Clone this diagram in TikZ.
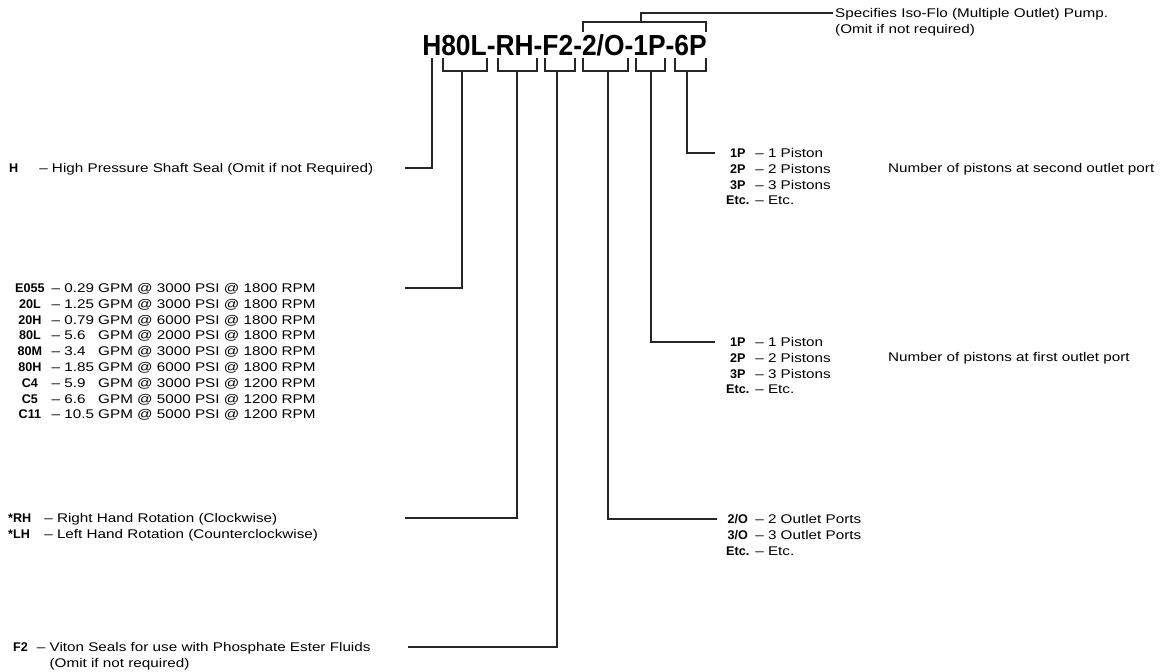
\documentclass[tikz,border=0pt]{standalone}
\usepackage{fontspec}
\setmainfont{Liberation Sans}[FakeStretch=1.21]
\newfontfamily\keyfont{Liberation Sans}
\newfontfamily\pumpfont{Liberation Sans}[FakeStretch=0.91]
\newcommand{\pkey}[1]{{\keyfont\bfseries #1}}

\begin{document}
\begin{tikzpicture}[
    x=1pt, y=-1pt,
    font=\fontsize{12.6}{15.8}\selectfont,
    code_text/.style={inner sep=0pt, anchor=base, font=\pumpfont\bfseries\fontsize{29}{30}\selectfont},
    list_text/.style={inner sep=0pt, anchor=base west},
    bracket_line/.style={draw=black!85, line width=1.1pt},
    lead_line/.style={draw=black!85, line width=1.1pt}
]
\useasboundingbox (0,0) rectangle (1165,672);

% Model code
\node[code_text] (model_code) at (564.5,55) {H80L-RH-F2-2/O-1P-6P};

% Brackets under the code
\draw[bracket_line] (443,58) |- (487,71) -- (487,58);
\draw[bracket_line] (498,58) |- (537,71) -- (537,58);
\draw[bracket_line] (545,58) |- (575,71) -- (575,58);
\draw[bracket_line] (583,58) |- (628,71) -- (628,58);
\draw[bracket_line] (636,58) |- (665,71) -- (665,58);
\draw[bracket_line] (675,58) |- (706,71) -- (706,58);

% Bracket over 2/O-1P-6P
\draw[bracket_line] (583,32) |- (706,22) -- (706,32);

% Stems
\coordinate (h_stem) at (432,58);
\coordinate (size_stem) at (462,71);
\coordinate (rot_stem) at (517,71);
\coordinate (seal_stem) at (557,71);
\coordinate (port_stem) at (608,71);
\coordinate (first_stem) at (651,71);
\coordinate (second_stem) at (687,71);
\coordinate (iso_stem) at (641,22);

% Free ends of the leaders
\coordinate (h_end) at (405,168);
\coordinate (size_end) at (405,288);
\coordinate (rot_end) at (405,518);
\coordinate (seal_end) at (408,647);
\coordinate (port_end) at (717,519);
\coordinate (first_end) at (715,342);
\coordinate (second_end) at (715,153);
\coordinate (iso_end) at (833,13);

% Left: shaft seal
\node[list_text] (h_list) at (9,172.5) {\begin{tabular}[t]{@{}l@{\hspace{21pt}}l@{\ }l@{}}
\pkey{H} & -- & High Pressure Shaft Seal (Omit if not Required)
\end{tabular}};

% Left: pump sizes
\node[list_text] (size_list) at (15,292.5) {\begin{tabular}[t]{@{}c@{\hspace{7pt}}l@{\ }l@{\ }l@{}}
\pkey{E055} & -- & 0.29 & GPM @ 3000 PSI @ 1800 RPM\\
\pkey{20L} & -- & 1.25 & GPM @ 3000 PSI @ 1800 RPM\\
\pkey{20H} & -- & 0.79 & GPM @ 6000 PSI @ 1800 RPM\\
\pkey{80L} & -- & 5.6 & GPM @ 2000 PSI @ 1800 RPM\\
\pkey{80M} & -- & 3.4 & GPM @ 3000 PSI @ 1800 RPM\\
\pkey{80H} & -- & 1.85 & GPM @ 6000 PSI @ 1800 RPM\\
\pkey{C4} & -- & 5.9 & GPM @ 3000 PSI @ 1200 RPM\\
\pkey{C5} & -- & 6.6 & GPM @ 5000 PSI @ 1200 RPM\\
\pkey{C11} & -- & 10.5 & GPM @ 5000 PSI @ 1200 RPM
\end{tabular}};

% Left: rotation
\node[list_text] (rot_list) at (8,522.5) {\begin{tabular}[t]{@{}l@{\hspace{13pt}}l@{\ }l@{}}
\pkey{*RH} & -- & Right Hand Rotation (Clockwise)\\
\pkey{*LH} & -- & Left Hand Rotation (Counterclockwise)
\end{tabular}};

% Left: seals
\node[list_text] (seal_list) at (13,651.5) {\begin{tabular}[t]{@{}l@{\hspace{9pt}}l@{\ }l@{}}
\pkey{F2} & -- & Viton Seals for use with Phosphate Ester Fluids\\
 & & (Omit if not required)
\end{tabular}};

% Right: second outlet pistons
\node[list_text] (second_list) at (726,157.5) {\begin{tabular}[t]{@{}c@{\hspace{6pt}}l@{\ }l@{}}
\pkey{1P} & -- & 1 Piston\\
\pkey{2P} & -- & 2 Pistons\\
\pkey{3P} & -- & 3 Pistons\\
\pkey{Etc.} & -- & Etc.
\end{tabular}};
\node[list_text] (second_note) at (888,172.5) {Number of pistons at second outlet port};

% Right: first outlet pistons
\node[list_text] (first_list) at (726,346.5) {\begin{tabular}[t]{@{}c@{\hspace{6pt}}l@{\ }l@{}}
\pkey{1P} & -- & 1 Piston\\
\pkey{2P} & -- & 2 Pistons\\
\pkey{3P} & -- & 3 Pistons\\
\pkey{Etc.} & -- & Etc.
\end{tabular}};
\node[list_text] (first_note) at (888,361.5) {Number of pistons at first outlet port};

% Right: outlet ports
\node[list_text] (port_list) at (726,523.5) {\begin{tabular}[t]{@{}c@{\hspace{6pt}}l@{\ }l@{}}
\pkey{2/O} & -- & 2 Outlet Ports\\
\pkey{3/O} & -- & 3 Outlet Ports\\
\pkey{Etc.} & -- & Etc.
\end{tabular}};

% Top: Iso-Flo note
\node[list_text] (iso_note) at (835,17.5) {\begin{tabular}[t]{@{}l@{}}
Specifies Iso-Flo (Multiple Outlet) Pump.\\
(Omit if not required)
\end{tabular}};

% Leaders
\draw[lead_line] (h_stem) |- (h_end);
\draw[lead_line] (size_stem) |- (size_end);
\draw[lead_line] (rot_stem) |- (rot_end);
\draw[lead_line] (seal_stem) |- (seal_end);
\draw[lead_line] (port_stem) |- (port_end);
\draw[lead_line] (first_stem) |- (first_end);
\draw[lead_line] (second_stem) |- (second_end);
\draw[lead_line] (iso_stem) |- (iso_end);

\end{tikzpicture}
\end{document}
